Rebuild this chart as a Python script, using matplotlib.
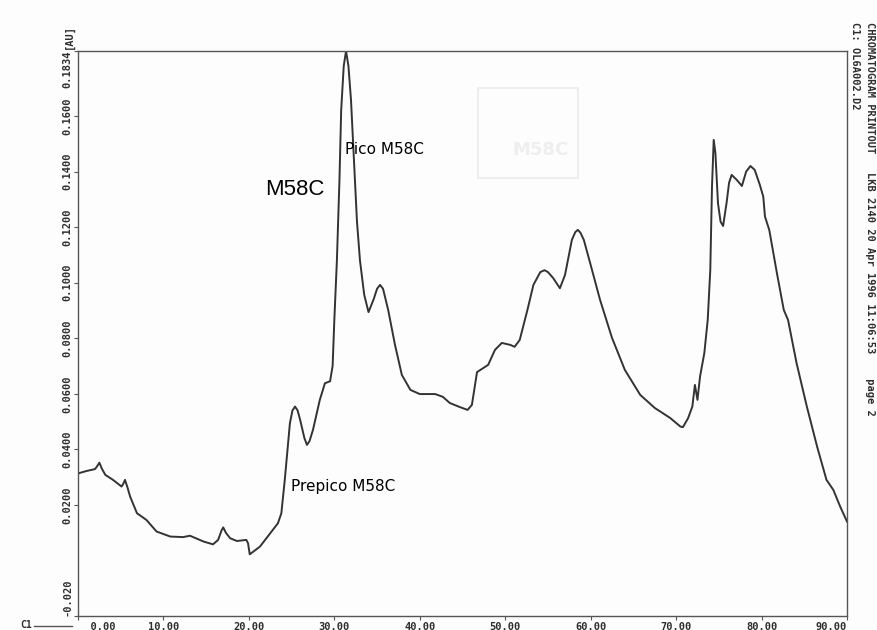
import matplotlib
matplotlib.use("Agg")
import matplotlib.pyplot as plt
from matplotlib.lines import Line2D
from matplotlib.patches import Rectangle

# Chromatogram trace, retention time (min) vs absorbance (AU)
retention_time = [0.0, 0.2, 1.0, 2.0, 2.3, 2.5, 2.8, 3.2, 4.1, 5.1, 5.3, 5.5, 5.8, 6.1, 6.9,
                  8.0, 9.2, 10.8, 12.3, 13.1, 14.7, 15.8, 16.4, 16.8, 17.0, 17.3, 17.8,
                  18.6, 19.7, 19.9, 20.1, 21.3, 22.5, 23.4, 23.8, 24.2, 24.8, 25.1, 25.4,
                  25.7, 26.0, 26.5, 26.8, 27.1, 27.5, 28.3, 28.9, 29.5, 29.8, 30.0, 30.3,
                  30.6, 30.8, 31.1, 31.37, 31.65, 31.95, 32.3, 32.65, 33.0, 33.5, 34.0,
                  34.6, 35.0, 35.35, 35.7, 36.3, 37.1, 37.9, 38.9, 40.0, 41.8, 42.7, 43.5,
                  44.7, 45.6, 46.1, 46.7, 48.0, 48.8, 49.6, 50.6, 51.1, 51.7, 52.6, 53.3,
                  54.1, 54.6, 55.0, 55.6, 56.4, 57.0, 57.8, 58.2, 58.5, 58.8, 59.2, 59.9,
                  61.1, 62.5, 64.0, 65.8, 67.5, 69.3, 70.5, 70.8, 71.4, 71.9, 72.2, 72.5,
                  72.8, 73.3, 73.7, 74.0, 74.2, 74.4, 74.6, 74.9, 75.2, 75.5, 75.9, 76.2,
                  76.5, 77.1, 77.7, 78.2, 78.7, 79.2, 79.8, 80.2, 80.4, 80.9, 81.8, 82.6,
                  83.1, 84.1, 85.3, 86.5, 87.6, 88.4, 89.2, 90.0]
absorbance = [0.0312, 0.0315, 0.0322, 0.0329, 0.0342, 0.0352, 0.0330, 0.0308, 0.0290,
              0.0266, 0.0276, 0.0290, 0.0262, 0.0230, 0.0170, 0.0146, 0.0104, 0.0086,
              0.0084, 0.0089, 0.0068, 0.0058, 0.0074, 0.0108, 0.0119, 0.0100, 0.0080,
              0.0070, 0.0074, 0.0062, 0.0022, 0.0050, 0.0098, 0.0134, 0.0170, 0.0290,
              0.0494, 0.0540, 0.0554, 0.0540, 0.0506, 0.0440, 0.0416, 0.0430, 0.0470,
              0.0578, 0.0638, 0.0645, 0.0700, 0.0866, 0.1080, 0.1370, 0.1620, 0.1780,
              0.1834, 0.1780, 0.1658, 0.1440, 0.1220, 0.1080, 0.0956, 0.0894, 0.0940,
              0.0978, 0.0992, 0.0978, 0.0902, 0.0776, 0.0668, 0.0614, 0.0599, 0.0599,
              0.0589, 0.0567, 0.0552, 0.0542, 0.0560, 0.0678, 0.0704, 0.0758, 0.0783,
              0.0776, 0.0769, 0.0794, 0.0902, 0.0992, 0.1038, 0.1045, 0.1038, 0.1017,
              0.0980, 0.1028, 0.1154, 0.1182, 0.1190, 0.1180, 0.1154, 0.1075, 0.0938,
              0.0801, 0.0686, 0.0596, 0.0549, 0.0513, 0.0482, 0.0480, 0.0512, 0.0554,
              0.0632, 0.0578, 0.0662, 0.0746, 0.0866, 0.1046, 0.1346, 0.1514, 0.1466,
              0.1286, 0.1220, 0.1204, 0.1286, 0.1360, 0.1388, 0.1370, 0.1348, 0.1400,
              0.1420, 0.1406, 0.1352, 0.1310, 0.1238, 0.1190, 0.1034, 0.0902, 0.0866,
              0.0710, 0.0554, 0.0410, 0.0290, 0.0254, 0.0194, 0.0140]

x_ticks = [0, 10, 20, 30, 40, 50, 60, 70, 80, 90]
x_ticklabels = ["  0.00", "10.00", "20.00", "30.00", "40.00", "50.00", "60.00",
                "70.00", "80.00", "90.00"]
y_ticks = [-0.020, 0.0200, 0.0400, 0.0600, 0.0800, 0.1000, 0.1200, 0.1400, 0.1600, 0.1834]
y_ticklabels = ["-0.020", "0.0200", "0.0400", "0.0600", "0.0800", "0.1000", "0.1200",
                "0.1400", "0.1600", "0.1834"]

W, H = 877, 630
mono = {'family': 'DejaVu Sans Mono', 'weight': 'bold', 'size': 7.5}
ink = '#2e2e2e'

fig = plt.figure(figsize=(W / 100, H / 100), dpi=100)
fig.patch.set_facecolor('#fdfdfd')
ax = fig.add_axes([78 / W, (H - 616) / H, 769 / W, 565 / H])
ax.set_facecolor('#fdfdfd')

ax.plot(retention_time, absorbance, color='#333333', lw=1.4, solid_joinstyle='round')
ax.set_xlim(0, 90)
ax.set_ylim(-0.020, 0.1834)

for side in ax.spines.values():
    side.set_color('#555555')
    side.set_linewidth(1.0)

ax.set_xticks(x_ticks)
ax.set_xticklabels(x_ticklabels, fontdict=mono, color=ink)
ax.set_yticks(y_ticks)
ax.set_yticklabels(y_ticklabels, fontdict=mono, color=ink, rotation=90, va='center')
ax.tick_params(axis='both', direction='out', length=3, width=0.8, color='#555555')
ax.tick_params(axis='x', pad=1)
ax.tick_params(axis='y', pad=1)

# edge labels pushed inside the frame
xl = ax.get_xticklabels()
xl[0].set_horizontalalignment('left')
xl[-1].set_horizontalalignment('right')
yl = ax.get_yticklabels()
yl[0].set_verticalalignment('bottom')
yl[-1].set_verticalalignment('top')

ax.text(-4 / 769, 1.004, "[AU]", transform=ax.transAxes, rotation=90, ha='right', va='bottom',
        fontdict=mono, color=ink)

# peak annotations
ax.text(31.2, 0.1478, "Pico M58C", fontsize=11, color='black', va='center')
ax.text(21.9, 0.1335, "M58C", fontsize=16, family='Liberation Sans', color='black', va='center')
ax.text(24.9, 0.0266, "Prepico M58C", fontsize=11, color='black', va='center')

# printer header down the right margin
fig.text(870 / W, 1 - 22 / H,
         "CHROMATOGRAM PRINTOUT   LKB 2140 20 Apr 1996 11:06:53    page 2",
         rotation=-90, ha='center', va='top', fontdict=mono, color=ink)
fig.text(855 / W, 1 - 22 / H, "C1: OL6A002.D2",
         rotation=-90, ha='center', va='top', fontdict=mono, color=ink)

# channel marker at the lower left
fig.text(20 / W, 1 - 625 / H, "C1", ha='left', va='center', family='DejaVu Sans Mono',
         weight='bold', size=7, color=ink)
fig.add_artist(Line2D([34 / W, 72 / W], [1 - 626 / H, 1 - 626 / H],
                      transform=fig.transFigure, color='#555555', lw=1))

# faint stamp box
fig.add_artist(Rectangle((478 / W, 1 - 178 / H), 100 / W, 90 / H, transform=fig.transFigure,
                         fill=False, ec='#eeeeee', lw=1.5))
fig.text(540 / W, 1 - 150 / H, "M58C", ha='center', va='center', fontsize=13,
         weight='bold', color='#eeeeee')

fig.savefig("out.png", dpi=100, facecolor=fig.get_facecolor())
